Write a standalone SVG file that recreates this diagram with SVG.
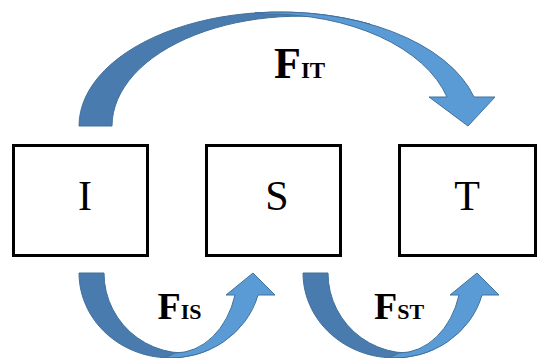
<svg xmlns="http://www.w3.org/2000/svg" width="539" height="358" viewBox="0 0 539 358">
  <style>
    .box { fill: #ffffff; stroke: #000000; stroke-width: 3; }
    .name { font-family: "Liberation Serif", "Times New Roman", serif; font-size: 42px; fill: #000000; text-anchor: middle; }
    .flow { font-family: "Liberation Serif", "Times New Roman", serif; font-weight: bold; fill: #000000; }
    .back { fill: #4A7BAF; stroke: #41719C; stroke-width: 1; stroke-linejoin: round; }
    .front { fill: #5B9BD5; stroke: #41719C; stroke-width: 1; stroke-linejoin: round; }
  </style>

  <rect width="539" height="358" fill="#ffffff"/>

  <!-- compartments -->
  <g id="node-I">
    <rect class="box" x="13.5" y="145.5" width="134" height="110"/>
    <text class="name" x="85" y="210">I</text>
  </g>
  <g id="node-S">
    <rect class="box" x="206.5" y="145.5" width="134" height="110"/>
    <text class="name" x="277" y="210">S</text>
  </g>
  <g id="node-T">
    <rect class="box" x="399.5" y="145.5" width="136" height="110"/>
    <text class="name" x="467" y="210">T</text>
  </g>

  <!-- flows between compartments -->
  <g id="connectors">
    <!-- I to T, over the top -->
    <g id="flow-IT">
      <path class="back" d="M79,126 A201,114 0 0 1 370,24.1 A188,110 0 0 0 112,126 Z"/>
      <path class="front" d="M255,12.9 A201,114 0 0 1 474,97 L495,97 L468,126 L429,97 L447,97 A185,112 0 0 0 265,14 Z"/>
      <text class="flow" x="274" y="78"><tspan font-size="44">F</tspan><tspan font-size="23">IT</tspan></text>
    </g>
    <!-- I to S, underneath -->
    <g id="flow-IS">
      <path class="back" d="M79,273 A91,85 0 0 0 210,349.2 A81,80 0 0 1 104,273 Z"/>
      <path class="front" d="M165,357.9 A91,85 0 0 0 258,295 L275,295 L253,273 L226,295 L235,295 A62.4,80 0 0 1 175,353 Z"/>
      <text class="flow" x="157.5" y="318.5"><tspan font-size="38">F</tspan><tspan font-size="22">IS</tspan></text>
    </g>
    <!-- S to T, underneath -->
    <g id="flow-ST" transform="translate(224,0)">
      <path class="back" d="M79,273 A91,85 0 0 0 210,349.2 A81,80 0 0 1 104,273 Z"/>
      <path class="front" d="M165,357.9 A91,85 0 0 0 258,295 L275,295 L253,273 L226,295 L235,295 A62.4,80 0 0 1 175,353 Z"/>
      <text class="flow" x="150" y="318.5"><tspan font-size="38">F</tspan><tspan font-size="22">ST</tspan></text>
    </g>
  </g>
</svg>
